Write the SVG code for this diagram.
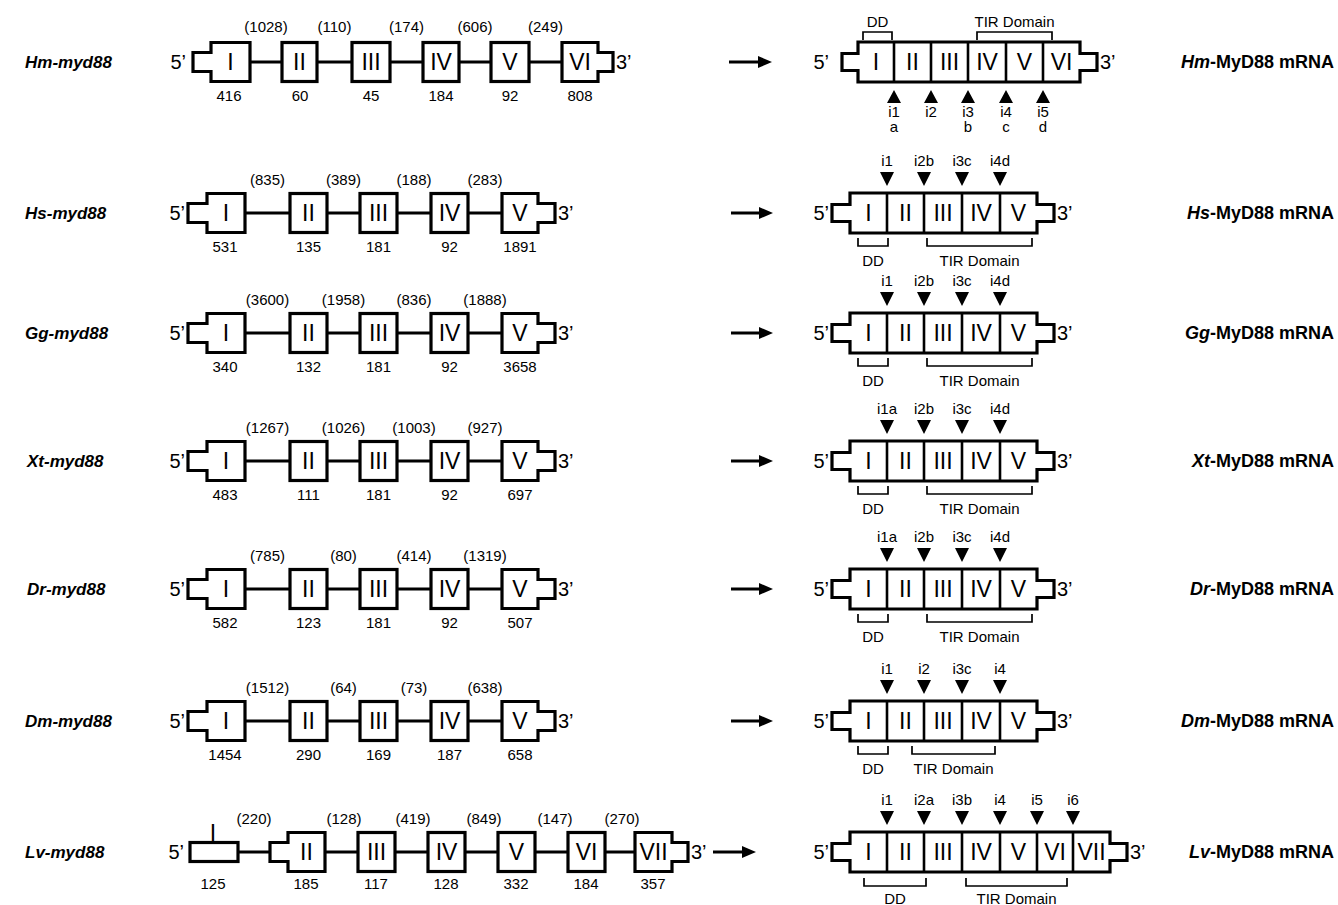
<svg xmlns="http://www.w3.org/2000/svg" width="1338" height="905" viewBox="0 0 1338 905">
<style>
.bx{fill:#fff;stroke:#000;stroke-width:3.2}
.ln{fill:none;stroke:#000;stroke-width:3.2}
.dv{fill:none;stroke:#000;stroke-width:2.6}
.br{fill:none;stroke:#000;stroke-width:1.7}
.tri{fill:#000}
text{font-family:"Liberation Sans",Arial,sans-serif;fill:#000}
.rn{font-size:23px;text-anchor:middle}
.sm{font-size:15px;text-anchor:middle}
.pr{font-size:20px}
.pe{font-size:20px;text-anchor:end}
.gl{font-size:17px;font-weight:bold;font-style:italic}
.ml{font-size:18px;font-weight:bold;text-anchor:end}
.ar{stroke:#000;stroke-width:3;marker-end:url(#ah)}
</style>
<defs>
<marker id="ah" markerUnits="userSpaceOnUse" markerWidth="14" markerHeight="12" viewBox="0 0 14 12" refX="2" refY="6" orient="auto"><path d="M0 0L14 6L0 12Z" fill="#000"/></marker>
</defs>
<rect width="1338" height="905" fill="#fff"/>

<!-- Hm -->
<g id="hm-gene" transform="translate(0,62)">
<text class="gl" x="25" y="6">Hm-myd88</text>
<path class="ln" d="M250 0H282M317 0H352M390 0H423M459 0H491M529 0H562"/>
<path class="bx" d="M193 -9.5H211V-19.5H250V19.5H211V9.5H193Z"/>
<rect class="bx" x="282" y="-19.5" width="35" height="39"/>
<rect class="bx" x="352" y="-19.5" width="38" height="39"/>
<rect class="bx" x="423" y="-19.5" width="36" height="39"/>
<rect class="bx" x="491" y="-19.5" width="38" height="39"/>
<path class="bx" d="M562 -19.5H598V-9.5H613V9.5H598V19.5H562Z"/>
<text class="pe" x="186" y="7">5’</text>
<text class="pr" x="616" y="7">3’</text>
<text class="rn" x="230.5" y="8">I</text>
<text class="rn" x="299.5" y="8">II</text>
<text class="rn" x="371" y="8">III</text>
<text class="rn" x="441" y="8">IV</text>
<text class="rn" x="510" y="8">V</text>
<text class="rn" x="580" y="8">VI</text>
<text class="sm" x="266" y="-30">(1028)</text>
<text class="sm" x="334.5" y="-30">(110)</text>
<text class="sm" x="406.5" y="-30">(174)</text>
<text class="sm" x="475" y="-30">(606)</text>
<text class="sm" x="545.5" y="-30">(249)</text>
<text class="sm" x="229" y="39">416</text>
<text class="sm" x="300" y="39">60</text>
<text class="sm" x="371" y="39">45</text>
<text class="sm" x="441" y="39">184</text>
<text class="sm" x="510" y="39">92</text>
<text class="sm" x="580" y="39">808</text>
</g>
<g id="hm-mrna" transform="translate(0,62)">
<path class="bx" d="M842 -8.5H858V-20H1080V-8.5H1097V8.5H1080V20H858V8.5H842Z"/>
<path class="dv" d="M894 -20V20M931 -20V20M968 -20V20M1006 -20V20M1043 -20V20"/>
<text class="pe" x="829" y="7">5’</text>
<text class="pr" x="1100" y="7">3’</text>
<text class="rn" x="876" y="8">I</text>
<text class="rn" x="912.5" y="8">II</text>
<text class="rn" x="949.5" y="8">III</text>
<text class="rn" x="987" y="8">IV</text>
<text class="rn" x="1024.5" y="8">V</text>
<text class="rn" x="1061.5" y="8">VI</text>
<path class="tri" d="M887 41H901L894 28ZM924 41H938L931 28ZM961 41H975L968 28ZM999 41H1013L1006 28ZM1036 41H1050L1043 28Z"/>
<text class="sm" x="894" y="55">i1</text>
<text class="sm" x="931" y="55">i2</text>
<text class="sm" x="968" y="55">i3</text>
<text class="sm" x="1006" y="55">i4</text>
<text class="sm" x="1043" y="55">i5</text>
<text class="sm" x="894" y="70">a</text>
<text class="sm" x="968" y="70">b</text>
<text class="sm" x="1006" y="70">c</text>
<text class="sm" x="1043" y="70">d</text>
<path class="br" d="M863 -22V-30H892V-22M977 -22V-30H1052V-22"/>
<text class="sm" x="877.5" y="-35">DD</text>
<text class="sm" x="1014.5" y="-35">TIR Domain</text>
<text class="ml" x="1334" y="6"><tspan font-style="italic">Hm</tspan>-MyD88 mRNA</text>
</g>

<!-- Hs -->
<g id="hs-gene" transform="translate(0,213)">
<text class="gl" x="25" y="6">Hs-myd88</text>
<path class="ln" d="M245 0H290M327 0H360M397 0H431M468 0H502"/>
<path class="bx" d="M188 -9.5H207V-19.5H245V19.5H207V9.5H188Z"/>
<rect class="bx" x="290" y="-19.5" width="37" height="39"/>
<rect class="bx" x="360" y="-19.5" width="37" height="39"/>
<rect class="bx" x="431" y="-19.5" width="37" height="39"/>
<path class="bx" d="M502 -19.5H538V-9.5H555V9.5H538V19.5H502Z"/>
<text class="pe" x="185" y="7">5’</text>
<text class="pr" x="558" y="7">3’</text>
<text class="rn" x="226" y="8">I</text>
<text class="rn" x="308.5" y="8">II</text>
<text class="rn" x="378.5" y="8">III</text>
<text class="rn" x="449.5" y="8">IV</text>
<text class="rn" x="520" y="8">V</text>
<text class="sm" x="267.5" y="-28">(835)</text>
<text class="sm" x="343.5" y="-28">(389)</text>
<text class="sm" x="414" y="-28">(188)</text>
<text class="sm" x="485" y="-28">(283)</text>
<text class="sm" x="225" y="39">531</text>
<text class="sm" x="308.5" y="39">135</text>
<text class="sm" x="378.5" y="39">181</text>
<text class="sm" x="449.5" y="39">92</text>
<text class="sm" x="520" y="39">1891</text>
</g>
<g id="hs-mrna" transform="translate(0,213)">
<path class="bx" d="M832 -8.5H850V-20H1037V-8.5H1054V8.5H1037V20H850V8.5H832Z"/>
<path class="dv" d="M887 -20V20M924 -20V20M962 -20V20M1000 -20V20"/>
<text class="pe" x="829" y="7">5’</text>
<text class="pr" x="1057" y="7">3’</text>
<text class="rn" x="868.5" y="8">I</text>
<text class="rn" x="905.5" y="8">II</text>
<text class="rn" x="943" y="8">III</text>
<text class="rn" x="981" y="8">IV</text>
<text class="rn" x="1018.5" y="8">V</text>
<path class="tri" d="M880 -41H894L887 -27ZM917 -41H931L924 -27ZM955 -41H969L962 -27ZM993 -41H1007L1000 -27Z"/>
<text class="sm" x="887" y="-47">i1</text>
<text class="sm" x="924" y="-47">i2b</text>
<text class="sm" x="962" y="-47">i3c</text>
<text class="sm" x="1000" y="-47">i4d</text>
<path class="br" d="M858 25V33H888V25M927 25V33H1032V25"/>
<text class="sm" x="873" y="53">DD</text>
<text class="sm" x="979.5" y="53">TIR Domain</text>
<text class="ml" x="1334" y="6"><tspan font-style="italic">Hs</tspan>-MyD88 mRNA</text>
</g>

<!-- Gg -->
<g id="gg-gene" transform="translate(0,333)">
<text class="gl" x="25" y="6">Gg-myd88</text>
<path class="ln" d="M245 0H290M327 0H360M397 0H431M468 0H502"/>
<path class="bx" d="M188 -9.5H207V-19.5H245V19.5H207V9.5H188Z"/>
<rect class="bx" x="290" y="-19.5" width="37" height="39"/>
<rect class="bx" x="360" y="-19.5" width="37" height="39"/>
<rect class="bx" x="431" y="-19.5" width="37" height="39"/>
<path class="bx" d="M502 -19.5H538V-9.5H555V9.5H538V19.5H502Z"/>
<text class="pe" x="185" y="7">5’</text>
<text class="pr" x="558" y="7">3’</text>
<text class="rn" x="226" y="8">I</text>
<text class="rn" x="308.5" y="8">II</text>
<text class="rn" x="378.5" y="8">III</text>
<text class="rn" x="449.5" y="8">IV</text>
<text class="rn" x="520" y="8">V</text>
<text class="sm" x="267.5" y="-28">(3600)</text>
<text class="sm" x="343.5" y="-28">(1958)</text>
<text class="sm" x="414" y="-28">(836)</text>
<text class="sm" x="485" y="-28">(1888)</text>
<text class="sm" x="225" y="39">340</text>
<text class="sm" x="308.5" y="39">132</text>
<text class="sm" x="378.5" y="39">181</text>
<text class="sm" x="449.5" y="39">92</text>
<text class="sm" x="520" y="39">3658</text>
</g>
<g id="gg-mrna" transform="translate(0,333)">
<path class="bx" d="M832 -8.5H850V-20H1037V-8.5H1054V8.5H1037V20H850V8.5H832Z"/>
<path class="dv" d="M887 -20V20M924 -20V20M962 -20V20M1000 -20V20"/>
<text class="pe" x="829" y="7">5’</text>
<text class="pr" x="1057" y="7">3’</text>
<text class="rn" x="868.5" y="8">I</text>
<text class="rn" x="905.5" y="8">II</text>
<text class="rn" x="943" y="8">III</text>
<text class="rn" x="981" y="8">IV</text>
<text class="rn" x="1018.5" y="8">V</text>
<path class="tri" d="M880 -41H894L887 -27ZM917 -41H931L924 -27ZM955 -41H969L962 -27ZM993 -41H1007L1000 -27Z"/>
<text class="sm" x="887" y="-47">i1</text>
<text class="sm" x="924" y="-47">i2b</text>
<text class="sm" x="962" y="-47">i3c</text>
<text class="sm" x="1000" y="-47">i4d</text>
<path class="br" d="M858 25V33H888V25M927 25V33H1032V25"/>
<text class="sm" x="873" y="53">DD</text>
<text class="sm" x="979.5" y="53">TIR Domain</text>
<text class="ml" x="1334" y="6"><tspan font-style="italic">Gg</tspan>-MyD88 mRNA</text>
</g>

<!-- Xt -->
<g id="xt-gene" transform="translate(0,461)">
<text class="gl" x="27" y="6">Xt-myd88</text>
<path class="ln" d="M245 0H290M327 0H360M397 0H431M468 0H502"/>
<path class="bx" d="M188 -9.5H207V-19.5H245V19.5H207V9.5H188Z"/>
<rect class="bx" x="290" y="-19.5" width="37" height="39"/>
<rect class="bx" x="360" y="-19.5" width="37" height="39"/>
<rect class="bx" x="431" y="-19.5" width="37" height="39"/>
<path class="bx" d="M502 -19.5H538V-9.5H555V9.5H538V19.5H502Z"/>
<text class="pe" x="185" y="7">5’</text>
<text class="pr" x="558" y="7">3’</text>
<text class="rn" x="226" y="8">I</text>
<text class="rn" x="308.5" y="8">II</text>
<text class="rn" x="378.5" y="8">III</text>
<text class="rn" x="449.5" y="8">IV</text>
<text class="rn" x="520" y="8">V</text>
<text class="sm" x="267.5" y="-28">(1267)</text>
<text class="sm" x="343.5" y="-28">(1026)</text>
<text class="sm" x="414" y="-28">(1003)</text>
<text class="sm" x="485" y="-28">(927)</text>
<text class="sm" x="225" y="39">483</text>
<text class="sm" x="308.5" y="39">111</text>
<text class="sm" x="378.5" y="39">181</text>
<text class="sm" x="449.5" y="39">92</text>
<text class="sm" x="520" y="39">697</text>
</g>
<g id="xt-mrna" transform="translate(0,461)">
<path class="bx" d="M832 -8.5H850V-20H1037V-8.5H1054V8.5H1037V20H850V8.5H832Z"/>
<path class="dv" d="M887 -20V20M924 -20V20M962 -20V20M1000 -20V20"/>
<text class="pe" x="829" y="7">5’</text>
<text class="pr" x="1057" y="7">3’</text>
<text class="rn" x="868.5" y="8">I</text>
<text class="rn" x="905.5" y="8">II</text>
<text class="rn" x="943" y="8">III</text>
<text class="rn" x="981" y="8">IV</text>
<text class="rn" x="1018.5" y="8">V</text>
<path class="tri" d="M880 -41H894L887 -27ZM917 -41H931L924 -27ZM955 -41H969L962 -27ZM993 -41H1007L1000 -27Z"/>
<text class="sm" x="887" y="-47">i1a</text>
<text class="sm" x="924" y="-47">i2b</text>
<text class="sm" x="962" y="-47">i3c</text>
<text class="sm" x="1000" y="-47">i4d</text>
<path class="br" d="M858 25V33H888V25M927 25V33H1032V25"/>
<text class="sm" x="873" y="53">DD</text>
<text class="sm" x="979.5" y="53">TIR Domain</text>
<text class="ml" x="1334" y="6"><tspan font-style="italic">Xt</tspan>-MyD88 mRNA</text>
</g>

<!-- Dr -->
<g id="dr-gene" transform="translate(0,589)">
<text class="gl" x="27" y="6">Dr-myd88</text>
<path class="ln" d="M245 0H290M327 0H360M397 0H431M468 0H502"/>
<path class="bx" d="M188 -9.5H207V-19.5H245V19.5H207V9.5H188Z"/>
<rect class="bx" x="290" y="-19.5" width="37" height="39"/>
<rect class="bx" x="360" y="-19.5" width="37" height="39"/>
<rect class="bx" x="431" y="-19.5" width="37" height="39"/>
<path class="bx" d="M502 -19.5H538V-9.5H555V9.5H538V19.5H502Z"/>
<text class="pe" x="185" y="7">5’</text>
<text class="pr" x="558" y="7">3’</text>
<text class="rn" x="226" y="8">I</text>
<text class="rn" x="308.5" y="8">II</text>
<text class="rn" x="378.5" y="8">III</text>
<text class="rn" x="449.5" y="8">IV</text>
<text class="rn" x="520" y="8">V</text>
<text class="sm" x="267.5" y="-28">(785)</text>
<text class="sm" x="343.5" y="-28">(80)</text>
<text class="sm" x="414" y="-28">(414)</text>
<text class="sm" x="485" y="-28">(1319)</text>
<text class="sm" x="225" y="39">582</text>
<text class="sm" x="308.5" y="39">123</text>
<text class="sm" x="378.5" y="39">181</text>
<text class="sm" x="449.5" y="39">92</text>
<text class="sm" x="520" y="39">507</text>
</g>
<g id="dr-mrna" transform="translate(0,589)">
<path class="bx" d="M832 -8.5H850V-20H1037V-8.5H1054V8.5H1037V20H850V8.5H832Z"/>
<path class="dv" d="M887 -20V20M924 -20V20M962 -20V20M1000 -20V20"/>
<text class="pe" x="829" y="7">5’</text>
<text class="pr" x="1057" y="7">3’</text>
<text class="rn" x="868.5" y="8">I</text>
<text class="rn" x="905.5" y="8">II</text>
<text class="rn" x="943" y="8">III</text>
<text class="rn" x="981" y="8">IV</text>
<text class="rn" x="1018.5" y="8">V</text>
<path class="tri" d="M880 -41H894L887 -27ZM917 -41H931L924 -27ZM955 -41H969L962 -27ZM993 -41H1007L1000 -27Z"/>
<text class="sm" x="887" y="-47">i1a</text>
<text class="sm" x="924" y="-47">i2b</text>
<text class="sm" x="962" y="-47">i3c</text>
<text class="sm" x="1000" y="-47">i4d</text>
<path class="br" d="M858 25V33H888V25M927 25V33H1032V25"/>
<text class="sm" x="873" y="53">DD</text>
<text class="sm" x="979.5" y="53">TIR Domain</text>
<text class="ml" x="1334" y="6"><tspan font-style="italic">Dr</tspan>-MyD88 mRNA</text>
</g>

<!-- Dm -->
<g id="dm-gene" transform="translate(0,721)">
<text class="gl" x="25" y="6">Dm-myd88</text>
<path class="ln" d="M245 0H290M327 0H360M397 0H431M468 0H502"/>
<path class="bx" d="M188 -9.5H207V-19.5H245V19.5H207V9.5H188Z"/>
<rect class="bx" x="290" y="-19.5" width="37" height="39"/>
<rect class="bx" x="360" y="-19.5" width="37" height="39"/>
<rect class="bx" x="431" y="-19.5" width="37" height="39"/>
<path class="bx" d="M502 -19.5H538V-9.5H555V9.5H538V19.5H502Z"/>
<text class="pe" x="185" y="7">5’</text>
<text class="pr" x="558" y="7">3’</text>
<text class="rn" x="226" y="8">I</text>
<text class="rn" x="308.5" y="8">II</text>
<text class="rn" x="378.5" y="8">III</text>
<text class="rn" x="449.5" y="8">IV</text>
<text class="rn" x="520" y="8">V</text>
<text class="sm" x="267.5" y="-28">(1512)</text>
<text class="sm" x="343.5" y="-28">(64)</text>
<text class="sm" x="414" y="-28">(73)</text>
<text class="sm" x="485" y="-28">(638)</text>
<text class="sm" x="225" y="39">1454</text>
<text class="sm" x="308.5" y="39">290</text>
<text class="sm" x="378.5" y="39">169</text>
<text class="sm" x="449.5" y="39">187</text>
<text class="sm" x="520" y="39">658</text>
</g>
<g id="dm-mrna" transform="translate(0,721)">
<path class="bx" d="M832 -8.5H850V-20H1037V-8.5H1054V8.5H1037V20H850V8.5H832Z"/>
<path class="dv" d="M887 -20V20M924 -20V20M962 -20V20M1000 -20V20"/>
<text class="pe" x="829" y="7">5’</text>
<text class="pr" x="1057" y="7">3’</text>
<text class="rn" x="868.5" y="8">I</text>
<text class="rn" x="905.5" y="8">II</text>
<text class="rn" x="943" y="8">III</text>
<text class="rn" x="981" y="8">IV</text>
<text class="rn" x="1018.5" y="8">V</text>
<path class="tri" d="M880 -41H894L887 -27ZM917 -41H931L924 -27ZM955 -41H969L962 -27ZM993 -41H1007L1000 -27Z"/>
<text class="sm" x="887" y="-47">i1</text>
<text class="sm" x="924" y="-47">i2</text>
<text class="sm" x="962" y="-47">i3c</text>
<text class="sm" x="1000" y="-47">i4</text>
<path class="br" d="M858 25V33H888V25M912 25V33H995V25"/>
<text class="sm" x="873" y="53">DD</text>
<text class="sm" x="953.5" y="53">TIR Domain</text>
<text class="ml" x="1334" y="6"><tspan font-style="italic">Dm</tspan>-MyD88 mRNA</text>
</g>

<!-- Lv -->
<g id="lv-gene" transform="translate(0,852)">
<text class="gl" x="25" y="6">Lv-myd88</text>
<path class="ln" d="M238 0H270M325 0H358M395 0H428M465 0H498M535 0H568M605 0H635"/>
<rect class="bx" x="190" y="-9.5" width="48" height="19"/>
<path class="bx" d="M270 -9.5H288V-19.5H325V19.5H288V9.5H270Z"/>
<rect class="bx" x="358" y="-19.5" width="37" height="39"/>
<rect class="bx" x="428" y="-19.5" width="37" height="39"/>
<rect class="bx" x="498" y="-19.5" width="37" height="39"/>
<rect class="bx" x="568" y="-19.5" width="37" height="39"/>
<path class="bx" d="M635 -19.5H672V-9.5H688V9.5H672V19.5H635Z"/>
<text class="pe" x="184" y="7">5’</text>
<text class="pr" x="691" y="7">3’</text>
<text class="rn" x="213" y="-11">I</text>
<text class="rn" x="306.5" y="8">II</text>
<text class="rn" x="376.5" y="8">III</text>
<text class="rn" x="446.5" y="8">IV</text>
<text class="rn" x="516.5" y="8">V</text>
<text class="rn" x="586.5" y="8">VI</text>
<text class="rn" x="653.5" y="8">VII</text>
<text class="sm" x="254" y="-28">(220)</text>
<text class="sm" x="344" y="-28">(128)</text>
<text class="sm" x="413" y="-28">(419)</text>
<text class="sm" x="484" y="-28">(849)</text>
<text class="sm" x="555" y="-28">(147)</text>
<text class="sm" x="622" y="-28">(270)</text>
<text class="sm" x="213" y="37">125</text>
<text class="sm" x="306" y="37">185</text>
<text class="sm" x="376" y="37">117</text>
<text class="sm" x="446" y="37">128</text>
<text class="sm" x="516" y="37">332</text>
<text class="sm" x="586" y="37">184</text>
<text class="sm" x="653" y="37">357</text>
</g>
<g id="lv-mrna" transform="translate(0,852)">
<path class="bx" d="M832 -8.5H850V-20H1110V-8.5H1127V8.5H1110V20H850V8.5H832Z"/>
<path class="dv" d="M887 -20V20M924 -20V20M962 -20V20M1000 -20V20M1037 -20V20M1073 -20V20"/>
<text class="pe" x="829" y="7">5’</text>
<text class="pr" x="1130" y="7">3’</text>
<text class="rn" x="868.5" y="8">I</text>
<text class="rn" x="905.5" y="8">II</text>
<text class="rn" x="943" y="8">III</text>
<text class="rn" x="981" y="8">IV</text>
<text class="rn" x="1018.5" y="8">V</text>
<text class="rn" x="1055" y="8">VI</text>
<text class="rn" x="1091.5" y="8">VII</text>
<path class="tri" d="M880 -41H894L887 -27ZM917 -41H931L924 -27ZM955 -41H969L962 -27ZM993 -41H1007L1000 -27ZM1030 -41H1044L1037 -27ZM1066 -41H1080L1073 -27Z"/>
<text class="sm" x="887" y="-47">i1</text>
<text class="sm" x="924" y="-47">i2a</text>
<text class="sm" x="962" y="-47">i3b</text>
<text class="sm" x="1000" y="-47">i4</text>
<text class="sm" x="1037" y="-47">i5</text>
<text class="sm" x="1073" y="-47">i6</text>
<path class="br" d="M864 26V34H926V26M966 26V34H1067V26"/>
<text class="sm" x="895" y="52">DD</text>
<text class="sm" x="1016.5" y="52">TIR Domain</text>
<text class="ml" x="1334" y="6"><tspan font-style="italic">Lv</tspan>-MyD88 mRNA</text>
</g>

<g id="connectors">
<line class="ar" x1="729" y1="62" x2="760" y2="62"/>
<line class="ar" x1="731" y1="213" x2="761" y2="213"/>
<line class="ar" x1="731" y1="333" x2="761" y2="333"/>
<line class="ar" x1="731" y1="461" x2="761" y2="461"/>
<line class="ar" x1="731" y1="589" x2="761" y2="589"/>
<line class="ar" x1="731" y1="721" x2="761" y2="721"/>
<line class="ar" x1="713" y1="852" x2="744" y2="852"/>
</g>
</svg>
